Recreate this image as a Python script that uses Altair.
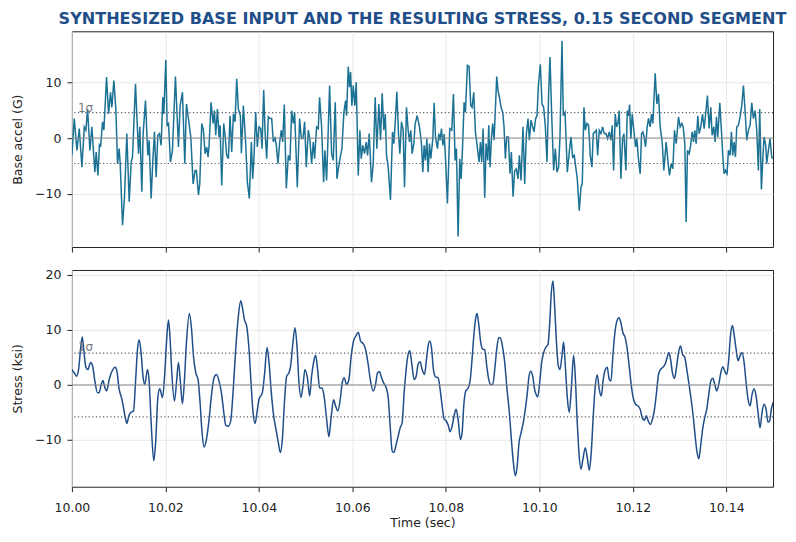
import altair as alt
import pandas as pd

TITLE = "SYNTHESIZED BASE INPUT AND THE RESULTING STRESS, 0.15 SECOND SEGMENT"
T0 = 10.0  # seconds, start of the segment

# Base acceleration (G), times in ms after T0
accel_t_ms = [
    0.00, 0.50, 1.07, 1.57, 2.14, 2.64, 2.99, 3.35, 3.85, 4.27,
    4.91, 5.20, 5.56, 5.91, 6.13, 6.55, 6.84, 7.41, 7.84, 8.26,
    8.55, 8.97, 9.40, 9.76, 10.11, 10.33, 10.83, 11.25, 11.75, 12.25,
    12.68, 12.96, 13.60, 14.25, 14.53, 14.96, 15.24, 15.74, 16.24, 16.52,
    16.95, 17.31, 17.66, 18.02, 18.38, 18.73, 19.09, 19.45, 19.66, 20.09,
    20.37, 20.66, 21.08, 21.51, 22.15, 22.51, 22.79, 23.15, 23.65, 24.15,
    24.50, 24.93, 25.43, 25.93, 26.35, 26.64, 27.07, 27.35, 27.78, 28.14,
    28.49, 28.85, 29.13, 29.35, 29.77, 30.20, 30.49, 30.77, 31.13, 31.48,
    31.70, 32.05, 32.48, 32.76, 33.12, 33.48, 33.83, 34.19, 34.55, 34.90,
    35.26, 35.61, 36.04, 36.26,
    36.68, 37.18, 37.54, 37.96, 38.39, 38.68, 38.96, 39.32, 39.67, 40.03,
    40.39, 40.67, 41.03, 41.31, 41.67, 42.02, 42.38, 42.74, 43.09, 43.45,
    43.73, 44.09, 44.45, 44.80, 45.09, 45.44, 45.87, 46.30, 46.65, 47.01,
    47.37, 47.65, 48.22, 48.72, 49.08, 49.43, 49.79, 50.14, 50.57, 50.93,
    51.28, 51.64, 51.92, 52.35, 52.71, 52.99, 53.42, 53.85, 54.13, 54.49,
    54.77, 55.13, 55.56, 55.91, 56.34, 56.70, 57.05, 57.41, 57.76, 58.19,
    58.55, 58.76, 59.12, 59.40, 59.62, 59.90, 60.19, 60.54, 60.83, 61.26,
    61.61, 61.90, 62.25, 62.61, 62.97, 63.25, 63.61, 64.10, 64.46, 64.89,
    65.24, 65.67, 66.03, 66.38, 66.74, 67.03, 67.31, 67.67, 68.16, 68.59,
    68.88, 69.16, 69.52, 69.87, 70.16, 70.51, 70.87, 71.16, 71.58, 71.94,
    72.22, 72.51, 72.79, 73.15, 73.44,
    73.86, 74.36, 74.79, 75.07, 75.36, 75.64, 75.93, 76.21, 76.50, 76.78,
    77.21, 77.50, 77.78, 78.21, 78.49, 78.78, 79.06, 79.35, 79.63, 79.92,
    80.34, 80.84, 81.27, 81.63, 81.98, 82.27, 82.62, 82.98, 83.27, 83.55,
    83.91, 84.19, 84.62, 84.97, 85.33, 85.62, 85.97, 86.33, 86.76, 87.11,
    87.40, 87.68, 87.97, 88.32, 88.61, 88.96, 89.18, 89.46, 89.75, 90.03,
    90.32, 90.89, 91.17, 91.46, 91.81, 92.17, 92.45, 92.74, 93.02, 93.38,
    93.73, 94.02, 94.38, 94.73, 95.09, 95.45, 95.73, 96.09, 96.51, 96.87,
    97.23, 97.58, 97.87, 98.22, 98.58, 98.87, 99.22, 99.51, 99.79, 100.22,
    100.58, 100.93, 101.29, 101.64, 102.00, 102.28, 102.64, 103.07, 103.42, 103.78,
    104.13, 104.42, 104.85, 105.13, 105.49, 105.70, 105.99, 106.41, 106.77, 107.13,
    107.48, 107.84, 108.12, 108.55, 108.91, 109.19, 109.55, 109.83, 110.19, 110.54,
    110.90, 111.26, 111.54, 111.90, 112.18, 112.47, 112.82, 113.18, 113.54, 113.89,
    114.25, 114.61, 114.96, 115.32, 115.60, 115.89, 116.24, 116.53, 116.81, 117.10,
    117.45, 117.81, 118.10, 118.52, 118.81, 119.09, 119.31, 119.59, 119.87, 120.23,
    120.59, 120.87, 121.23, 121.58, 121.87, 122.15, 122.44, 122.72, 123.08, 123.37,
    123.72, 124.01, 124.29, 124.79, 125.15, 125.50, 125.86, 126.29, 126.64, 127.14,
    127.50, 127.85, 128.21, 128.57, 128.92, 129.28, 129.78, 130.13, 130.49, 130.78,
    131.13, 131.41, 131.70, 132.06, 132.34, 132.70, 132.98, 133.27, 133.55, 133.91,
    134.19, 134.55, 134.91, 135.26, 135.62, 135.97, 136.33, 136.69, 136.97, 137.33,
    137.61, 137.90, 138.18, 138.61, 138.96, 139.25, 139.53, 139.82, 140.17, 140.46,
    140.82, 141.10, 141.39, 141.67, 141.96, 142.24, 142.60, 142.95, 143.31, 143.67,
    144.02, 144.38, 144.74, 145.09, 145.45, 145.80, 146.16, 146.52, 146.87, 147.16,
    147.51, 147.80, 148.08, 148.44, 148.65, 149.01, 149.36, 149.72, 150.00,
]
accel_g = [
    -3.1, 3.5, -2.2, 1.7, -5.2, 2.0, 1.4, 5.2, -2.2, 2.0,
    -6.1, -2.5, -6.7, -1.0, -1.6, 2.9, 1.4, 10.9, 4.3, 8.2,
    5.5, 10.3, 5.2, -4.6, -1.9, -4.6, -15.6, -10.5, 0.8, -11.4,
    -4.3, -3.4, 9.7, -2.8, 2.0, -9.6, 0.8, 6.7, -3.1, -0.4,
    -10.8, -4.0, 1.1, -7.0, 0.5, 0.8, -1.3, 7.3, 4.3, 14.0,
    2.3, 2.6, -4.3, -2.2, 11.0, 4.0, -1.6, 5.8, 8.2, -4.6,
    6.1, 3.5, 0.2, -8.2, -5.8, -5.8, -10.2, -8.2, 2.6, 1.4,
    -2.8, -1.6, -3.4, -1.3, 6.4, 2.6, 4.9, 0.5, 5.2, 0.2,
    2.3, -8.5, 2.6, 0.5, -3.1, -3.7, 4.0, -2.5, 4.3, 2.9,
    10.6, 5.2, 4.0, -2.7,
    5.8, -1.0, -7.9, -10.8, -0.7, -7.3, -3.4, 4.6, -1.6, 2.0,
    1.7, -1.9, 8.6, 1.4, -3.7, 3.8, 3.5, 3.5, -0.7, 0.2,
    -1.3, -4.6, -0.7, 1.4, -0.7, 6.0, -9.0, -3.1, -4.0, 4.9,
    2.6, 4.6, -8.8, 3.5, -0.1, -0.1, 2.9, -5.2, 1.4, -0.4,
    -4.6, -0.7, -3.7, 2.0, 1.7, 7.3, 2.0, -7.9, -2.2, -7.6,
    -0.4, 9.4, -2.8, -4.0, 6.4, -7.3, -5.2, -3.4, -1.9, 4.6,
    6.7, 4.0, 12.8, 9.1, 11.8, 5.8, 9.4, 5.8, 10.0, -6.7,
    1.4, -3.7, -1.3, -2.8, -0.7, -3.1, 0.8, -7.9, -4.6, 7.3,
    -1.9, 6.1, -0.4, 8.0, 1.4, 4.3, -3.1, -5.2, -11.1, 1.1,
    -1.0, 2.6, 8.3, 0.8, -2.8, 2.9, 1.4, -8.8, 5.5, 1.4,
    -0.7, 1.4, -2.8, -1.0, 2.6,
    4.0, 2.0, -1.0, -6.1, -1.3, -4.0, -0.1, -6.1, -1.0, -3.7,
    -0.1, 6.3, 0.2, -1.9, 0.8, -0.4, 1.7, -1.3, 0.7, -3.4,
    -11.7, 1.7, 1.4, 7.9, -4.0, -1.9, -17.6, -3.7, -7.3, -2.2,
    6.4, 4.6, 13.0, 12.8, 5.8, 5.5, 8.2, 1.1, -1.9, -4.3,
    -0.7, -4.3, 1.7, -10.7, -1.0, -4.0, 2.3, -5.2, -0.1, 2.6,
    -0.4, 11.0, 8.5, 7.3, 5.5, 4.6, 2.0, -3.7, 0.2, 0.2,
    -6.4, -2.5, -10.5, -5.8, -5.5, -7.3, -3.1, -7.6, 2.0, -8.2,
    0.8, 3.5, -0.4, 3.2, 2.0, 1.1, 3.5, 4.0, 9.4, 13.2,
    6.1, 5.5, 2.0, -4.3, 8.2, 14.5, 4.3, -5.8, -1.9, -6.1,
    -5.2, 0.2, 17.4, 4.0, 4.6, 0.5, -6.1, -2.5, 0.2, -3.4,
    -3.1, -5.5, -7.3, -13.0, -8.8, -8.2, 5.5, 1.4, 2.6, 2.3,
    -3.1, -5.2, 0.8, 1.1, 1.4, -3.1, 1.4, 0.8, 2.0, 0.8,
    0.8, -0.1, 1.1, -0.4, 2.3, -5.8, 4.3, 2.0, 2.6, 4.9,
    -7.3, -0.1, 0.8, -5.8, 4.9, 4.0, 6.0, -0.1, 4.3, 1.4,
    -1.6, -0.1, -4.0, -6.4, 0.8, 1.1, 0.2, -1.6, 2.0, 3.5,
    2.0, 4.3, 2.6, 11.6, 6.1, 7.9, 2.0, -0.7, -5.8, -0.7,
    -4.0, -6.7, -4.6, -5.5, 1.4, -1.0, 3.8, 2.0, 2.6, 2.0,
    -1.0, -15.0, -2.2, -2.8, -1.6, 1.1, -0.7, 1.4, -1.0, 4.0,
    0.8, 2.0, 4.3, 1.7, 4.6, 7.6, 1.7, 5.5, 0.5, 2.0,
    -0.7, 3.8, 0.2, 6.3, 1.4, -3.1, -6.4, -5.8, -6.4, -2.2,
    -3.1, 1.1, -3.1, -0.7, -3.4, 2.0, 2.3, 3.8, 5.8, 9.4,
    4.9, -0.4, 1.4, 2.3, 6.3, 3.5, 4.9, 1.4, -5.8, 5.2,
    -9.2, -4.0, 0.2, -1.3, -4.6, -2.2, -0.1, -3.4, -3.7,
]

# Resulting stress (ksi), times in ms after T0
stress_t_ms = [
    0.00, 0.50, 1.00, 1.42, 1.85, 2.21, 2.56, 2.99, 3.42, 3.99,
    4.42, 4.91, 5.48, 5.84, 6.27, 6.62, 7.05, 7.41, 7.98, 8.69,
    9.26, 9.62, 10.11, 10.61, 10.97, 11.40, 11.75, 12.18, 12.61, 13.18,
    13.68, 14.03, 14.39, 14.82, 15.24, 15.60, 16.17, 16.52, 16.95, 17.52,
    17.95, 18.38, 18.80, 19.37, 19.87, 20.23, 20.66, 21.01, 21.37, 21.94,
    22.37, 22.79, 23.22, 23.65, 24.08, 24.50, 25.14, 25.57, 26.00, 26.50,
    26.99, 27.42, 27.85, 28.28, 28.78, 29.35, 29.84, 30.41, 30.91, 31.48,
    31.98, 32.41, 32.91, 33.48, 33.98, 34.47, 35.04, 35.61, 36.11, 36.47,
    36.90, 37.39, 37.89, 38.32, 38.75, 39.17, 39.60, 40.03, 40.74, 41.24,
    41.74, 42.17, 42.66, 43.16, 43.73, 44.16, 44.59, 45.02, 45.51, 45.94,
    46.44, 46.80, 47.22, 47.72, 48.15, 48.58, 49.00, 49.43, 49.86,
    50.43, 50.86, 51.28, 51.71, 52.14, 52.57, 52.99, 53.56, 53.99, 54.49,
    54.99, 55.49, 55.98, 56.41, 56.91, 57.41, 57.84, 58.26, 58.76, 59.26,
    59.76, 60.26, 60.76, 61.26, 61.75, 62.32, 62.82, 63.32, 63.89, 64.46,
    64.96, 65.39, 65.81, 66.24, 66.74, 67.24, 67.67, 68.09, 68.52, 68.88,
    69.30, 69.80, 70.23, 70.66, 71.08, 71.51, 71.94, 72.29, 72.72, 73.22,
    73.65, 74.08, 74.50, 74.93, 75.43, 75.86, 76.21, 76.57, 76.92, 77.35,
    77.78, 78.35, 78.78, 79.21, 79.63, 80.06, 80.49, 80.92, 81.34, 81.77,
    82.20, 82.62, 83.12, 83.48, 83.83, 84.26, 84.76, 85.19, 85.61, 86.04,
    86.40, 86.68, 87.04, 87.47, 87.89, 88.32, 88.75, 89.18, 89.60, 90.03,
    90.46, 90.89, 91.31, 91.67, 92.10, 92.60, 93.09, 93.59, 94.02, 94.45,
    94.87, 95.23, 95.66, 96.09, 96.58, 97.01, 97.44, 97.80, 98.15, 98.58,
    99.01,
    99.29, 99.65, 100.07, 100.50, 100.93, 101.36, 101.86, 102.21, 102.57, 102.92,
    103.28, 103.63, 104.06, 104.42, 104.85, 105.20, 105.56, 105.99, 106.41, 106.84,
    107.34, 107.69, 108.05, 108.48, 108.91, 109.33, 109.83, 110.26, 110.69, 111.11,
    111.54, 111.97, 112.40, 112.82, 113.25, 113.68, 114.11, 114.53, 114.96, 115.32,
    115.74, 116.17, 116.60, 117.03, 117.45, 117.88, 118.38, 118.81, 119.31, 119.73,
    120.16, 120.59, 121.09, 121.58, 122.08, 122.51, 122.87, 123.29, 123.72, 124.22,
    124.65, 125.07, 125.50, 125.93, 126.43, 126.93, 127.35, 127.71, 128.07, 128.49,
    128.92, 129.35, 129.78, 130.20, 130.63, 131.13, 131.56, 131.98, 132.48, 132.91,
    133.34, 133.76, 134.12, 134.55, 134.98, 135.40, 135.83, 136.26, 136.69, 137.11,
    137.54, 137.97, 138.40, 138.82, 139.25, 139.68, 140.11, 140.53, 140.89, 141.32,
    141.67, 142.10, 142.53, 142.95, 143.38, 143.81, 144.24, 144.66, 145.09, 145.52,
    145.94, 146.37, 146.80, 147.23, 147.65, 148.08, 148.51, 148.94, 149.29, 149.65,
    150.00,
]
stress_ksi = [
    2.8, 2.2, 1.6, 2.8, 6.5, 8.7, 6.2, 3.2, 2.8, 4.1,
    3.5, 0.7, -1.4, -1.4, 0.1, 0.8, -0.5, -1.1, 1.0, 2.7,
    3.2, 2.5, -0.8, -2.3, -3.8, -5.9, -7.0, -5.6, -5.0, -4.7,
    1.6, 6.5, 8.2, 5.6, 1.3, 0.1, 2.8, 0.7, -6.8, -13.8,
    -9.9, -2.3, -0.7, -2.3, 2.2, 7.7, 11.8, 8.3, 2.2, -2.9,
    0.4, 4.1, 0.4, -3.4, 1.0, 7.7, 13.0, 10.4, 5.3, 2.2,
    1.0, -3.2, -8.7, -11.3, -9.9, -6.2, -2.0, 1.3, 1.9, 0.7,
    -1.4, -4.4, -7.3, -7.5, -6.5, -1.4, 6.5, 12.5, 15.3, 14.1,
    11.9, 10.7, 6.5, 0.4, -5.0, -7.0, -5.0, -2.6, -1.4, 2.2,
    6.8, 4.1, -1.4, -5.6, -8.4, -10.5, -12.3, -9.9, -2.6, 1.6,
    2.2, 3.5, 7.1, 10.4, 7.1, 0.4, -2.3, -0.2, 2.8,
    1.0, -2.0, 1.6, 4.1, 5.4, 2.8, -0.5, -0.6, -2.3, -6.2,
    -9.4, -5.6, -2.7, -3.8, -4.7, -2.6, 0.4, 1.3, 0.1, 1.0,
    5.3, 8.0, 8.9, 9.6, 8.0, 7.5, 6.5, 4.1, 0.7, -1.1,
    0.1, 2.2, 2.4, 1.3, 0.3, -0.5, -2.3, -7.5, -12.0, -12.3,
    -11.1, -9.3, -7.8, -6.8, -1.4, 2.8, 5.6, 6.2, 3.8, 1.0,
    1.6, 3.8, 4.2, 2.8, 1.9, 4.7, 7.1, 8.0, 6.8, 2.8,
    1.5, 1.3, -0.8, -3.8, -6.2, -6.5, -7.3, -8.5, -7.5, -5.6,
    -4.4, -6.2, -9.9, -8.7, -3.8, -1.1, -0.6, 0.7, 4.7, 9.5,
    12.2, 13.0, 11.0, 7.7, 6.5, 6.4, 3.5, 1.0, 0.1, 0.1,
    2.8, 6.5, 8.6, 8.6, 7.1, 4.1, -0.8, -5.0, -9.9, -14.1,
    -16.5, -15.0, -10.5, -8.7, -6.8, -4.4, -1.4, 1.6, 2.5, 1.6,
    -0.9,
    -1.7, -2.2, 0.4, 4.1, 5.9, 6.8, 7.4, 11.0, 16.8, 18.9,
    14.4, 8.3, 3.5, 2.8, 5.3, 7.8, 3.5, -2.3, -5.0, -0.8,
    5.4, 1.6, -5.6, -12.3, -15.3, -13.5, -11.4, -13.2, -15.5, -12.3,
    -5.6, -0.2, 1.8, -0.8, -2.0, 1.0, 2.8, 3.2, 1.0, 0.7,
    5.3, 9.5, 11.6, 12.2, 11.3, 9.5, 8.6, 6.5, 2.8, -0.5,
    -2.6, -3.5, -3.8, -4.4, -6.1, -6.4, -5.6, -6.5, -7.2, -6.2,
    -4.4, -1.4, 1.9, 2.8, 3.2, 3.8, 5.0, 5.9, 4.7, 2.2,
    1.2, 3.2, 5.9, 7.1, 5.6, 5.0, 2.8, 0.4, -2.6, -5.6,
    -9.3, -12.3, -13.4, -10.8, -7.8, -5.9, -4.4, -1.7, 0.7, 1.2,
    0.1, -1.1, 0.1, 2.2, 3.3, 2.5, 1.9, 4.7, 8.9, 10.8,
    9.2, 6.5, 4.4, 5.3, 5.9, 4.1, 0.4, -2.6, -3.8, -1.7,
    -0.7, -2.0, -5.0, -7.8, -5.0, -3.5, -4.4, -6.8, -6.5, -4.4,
    -3.2,
]

accel_sigma = 4.55
stress_sigma = 5.8
x_ticks = [10.00, 10.02, 10.04, 10.06, 10.08, 10.10, 10.12, 10.14]
accel_ticks = [-10, 0, 10]
stress_ticks = [-10, 0, 10, 20]
accel_domain = [-19.5, 19.1]
stress_domain = [-18.5, 20.9]
sigma_label = "1σ"

assert len(accel_t_ms) == len(accel_g)
assert len(stress_t_ms) == len(stress_ksi)

accel_df = pd.DataFrame({"t": [T0 + m / 1000 for m in accel_t_ms], "v": accel_g})
stress_df = pd.DataFrame({"t": [T0 + m / 1000 for m in stress_t_ms], "v": stress_ksi})

FONT = "DejaVu Sans"
xscale = alt.Scale(domain=[10.0, 10.15], nice=False, zero=False)


def panel(df, color, width_px, height_px, domain, yticks, ytitle, sigma, label_y, show_x, interp, title=None):
    x_axis = alt.Axis(values=x_ticks, grid=True, ticks=True, tickSize=5,
                      labels=show_x, format=".2f", labelFlush=False,
                      title="Time (sec)" if show_x else None, labelPadding=10, titlePadding=2)
    y_axis = alt.Axis(values=yticks, grid=True, tickSize=5, title=ytitle,
                      minExtent=38, maxExtent=38, titlePadding=9, labelPadding=6)
    line = alt.Chart(df).mark_line(color=color, strokeWidth=width_px, interpolate=interp, clip=True).encode(
        x=alt.X("t:Q", scale=xscale, axis=x_axis),
        y=alt.Y("v:Q", scale=alt.Scale(domain=domain, nice=False, zero=False), axis=y_axis),
    )
    zero = alt.Chart(pd.DataFrame({"v": [0.0]})).mark_rule(color="#8a8a8a", strokeWidth=1).encode(
        y="v:Q"
    )
    sig = alt.Chart(pd.DataFrame({"v": [sigma, -sigma]})).mark_rule(
        color="#555b66", strokeWidth=1.2, strokeDash=[1.2, 2.4]
    ).encode(y="v:Q")
    lab = alt.Chart(pd.DataFrame({"t": [10.00128], "v": [label_y], "s": [sigma_label]})).mark_text(
        align="left", baseline="middle", fontSize=12, color="#7a7a7a", font=FONT
    ).encode(x="t:Q", y="v:Q", text="s:N")
    props = dict(width=702, height=height_px)
    if title is not None:
        props["title"] = title
    return alt.layer(line, zero, sig, lab).properties(**props)


top = panel(
    accel_df, "#1c7294", 1.5, 216, accel_domain, accel_ticks, "Base accel (G)", accel_sigma, 5.4,
    False, "linear",
    title=alt.TitleParams(TITLE, fontSize=16.1, fontWeight="bold", color="#1f4e89", font=FONT,
                          anchor="middle", frame="group", offset=4),
)
bottom = panel(
    stress_df, "#1f4e89", 1.5, 217, stress_domain, stress_ticks, "Stress (ksi)", stress_sigma, 6.9,
    True, "monotone",
)

chart = (
    alt.vconcat(top, bottom, spacing=15)
    .properties(padding={"left": 3, "top": 2, "right": 0, "bottom": 0})
    .configure(font=FONT)
    .configure_view(stroke="#222222", strokeWidth=1)
    .configure_axis(
        domain=False, tickColor="#222222", labelColor="#222222", labelFont=FONT, labelFontSize=12.5,
        titleFont=FONT, titleFontSize=12.5, titleFontWeight="normal", titleColor="#222222",
        gridColor="#e2e2e2", gridWidth=0.8,
    )
)

chart.save("out.html", embed_options={"renderer": "svg", "actions": False})
